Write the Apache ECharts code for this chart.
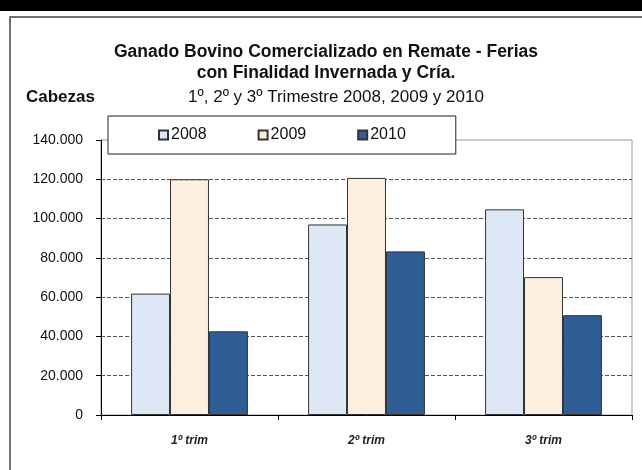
<!DOCTYPE html>
<html>
<head>
<meta charset="utf-8">
<script src="https://cdn.jsdelivr.net/npm/echarts@6/dist/echarts.min.js"></script>
<style>
    html, body { margin: 0; padding: 0; background: #fff; }
    #chart { width: 642px; height: 470px; }
</style>
</head>
<body>
<div id="chart"></div>
<script>
    // trimestres y valores (cabezas)
    const categories = ['1º trim', '2º trim', '3º trim'];
    const years = ['2008', '2009', '2010'];
    const v2008 = [61800, 97000, 104700];
    const v2009 = [120000, 120700, 70200];
    const v2010 = [42600, 83300, 50800];
    const yTicks = [0, 20000, 40000, 60000, 80000, 100000, 120000, 140000];

    const colors = ['#dde7f5', '#fdefdf', '#2f5d95'];
    const sans = '"Liberation Sans", Arial, sans-serif';

    function fmt (v) {
        return String(v).replace(/\B(?=(\d{3})+(?!\d))/g, '.');
    }

    const chart = echarts.init(document.getElementById('chart'));
    chart.setOption({
        animation: false,
        backgroundColor: '#fff',
        graphic: [
            { type: 'rect', shape: { x: 0, y: 0, width: 642, height: 11 }, style: { fill: '#000' } },
            { type: 'rect', shape: { x: 10, y: 17, width: 640, height: 470 }, style: { fill: 'none', stroke: '#444', lineWidth: 1.5 } }
        ],
        title: [
            {
                text: 'Ganado Bovino Comercializado en Remate - Ferias\ncon Finalidad Invernada y Cría.',
                left: 321, top: 37, textAlign: 'center',
                textStyle: { fontFamily: sans, fontSize: 17.5, fontWeight: 'bold', color: '#111', lineHeight: 21 }
            },
            {
                text: '1º, 2º y 3º Trimestre 2008, 2009 y 2010',
                left: 331, top: 84, textAlign: 'center',
                textStyle: { fontFamily: sans, fontSize: 17, fontWeight: 'normal', color: '#111' }
            },
            {
                text: 'Cabezas',
                left: 21, top: 84,
                textStyle: { fontFamily: sans, fontSize: 17, fontWeight: 'bold', color: '#111' }
            }
        ],
        legend: {
            data: years,
            left: 108, top: 116,
            padding: [11, 50, 11, 50],
            itemGap: 51,
            itemWidth: 9, itemHeight: 9,
            icon: 'rect',
            backgroundColor: '#fff',
            borderColor: '#222',
            borderWidth: 1,
            textStyle: { fontFamily: sans, fontSize: 16, color: '#111', padding: [0, 0, 0, -2] }
        },
        grid: {
            left: 101, right: 10, top: 140, bottom: 55,
            show: true, borderColor: '#999', borderWidth: 1
        },
        xAxis: {
            type: 'category',
            data: categories,
            axisLine: { lineStyle: { color: '#000', width: 1 } },
            axisTick: { show: true, length: 5, lineStyle: { color: '#000' } },
            axisLabel: {
                margin: 20,
                fontFamily: sans, fontSize: 12, fontStyle: 'italic', fontWeight: 'bold', color: '#222'
            }
        },
        yAxis: {
            type: 'value',
            min: yTicks[0], max: yTicks[yTicks.length - 1], interval: yTicks[1] - yTicks[0],
            axisLine: { show: true, lineStyle: { color: '#000', width: 1 } },
            axisTick: { show: true, length: 5, lineStyle: { color: '#000' } },
            axisLabel: {
                margin: 18,
                fontFamily: sans, fontSize: 14, color: '#111',
                formatter: fmt
            },
            splitLine: {
                show: true, showMinLine: false, showMaxLine: false,
                lineStyle: { color: '#555', type: [4, 2], width: 1 }
            }
        },
        series: [v2008, v2009, v2010].map((d, i) => ({
            name: years[i],
            type: 'bar',
            data: d,
            barGap: '0%',
            barCategoryGap: '34%',
            itemStyle: { color: colors[i], borderColor: '#333', borderWidth: 1 }
        }))
    });
</script>
</body>
</html>
